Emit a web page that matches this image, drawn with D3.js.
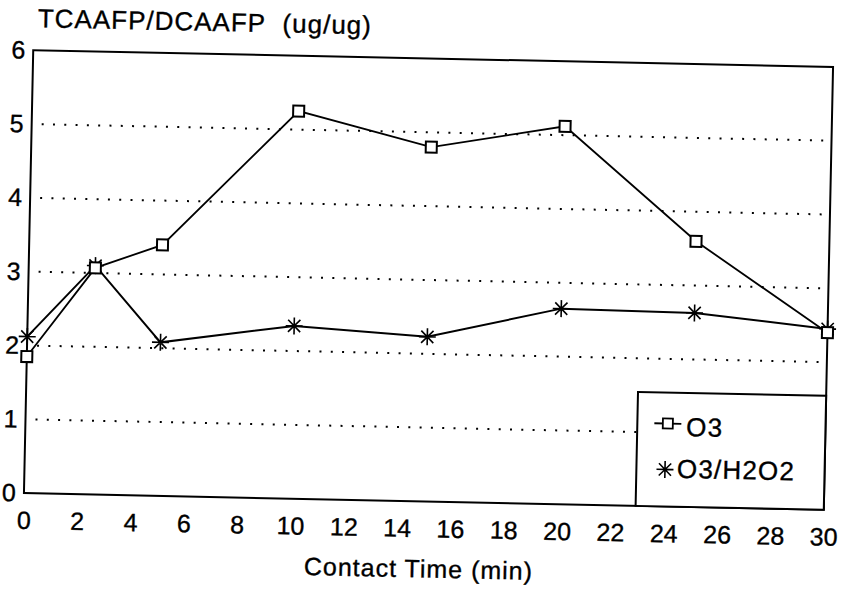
<!DOCTYPE html>
<html>
<head>
<meta charset="utf-8">
<script src="https://cdn.jsdelivr.net/npm/d3@7"></script>
<style>
  html, body { margin: 0; padding: 0; background: #fff; }
  text { font-family: "Liberation Sans", Arial, Helvetica, sans-serif; fill: #000; stroke: #000; stroke-width: 0.35px; }
</style>
</head>
<body>
<svg id="chart" width="843" height="593"></svg>
<script>
// ---- data ----
const contactTimes = [0, 2.5, 5, 10, 15, 20, 25, 30];
const o3Values     = [1.85, 3.07, 3.4, 5.25, 4.8, 5.12, 3.6, 2.4];
const o3h2o2Values = [2.12, 3.1, 2.08, 2.34, 2.23, 2.65, 2.63, 2.45];
const seriesNames  = ["O3", "O3/H2O2"];
const xTickValues  = [0, 2, 4, 6, 8, 10, 12, 14, 16, 18, 20, 22, 24, 26, 28, 30];
const yTickValues  = [0, 1, 2, 3, 4, 5, 6];
const gridValues   = [1, 2, 3, 4, 5];
const xTitle = "Contact Time (min)";
const yTitle = "TCAAFP/DCAAFP\u00A0\u00A0(ug/ug)";

// ---- layout ----
const scanTilt = 1.2;             // the scanned page is slightly rotated
const plotLeft = 28.5, plotTop = 58.5, pw = 800, ph = 443;
const cx = plotLeft + pw / 2, cy = plotTop + ph / 2;
const tickFont = 25;

const svg = d3.select("#chart");
svg.append("rect").attr("width", 843).attr("height", 593).attr("fill", "#fff");

const root = svg.append("g")
  .attr("transform", `rotate(${scanTilt},${cx},${cy}) translate(${plotLeft},${plotTop})`);

const x = d3.scaleLinear().domain([0, 30]).range([0, pw]);
const y = d3.scaleLinear().domain([0, 6]).range([ph, 0]);

// dotted grid lines
root.append("g").selectAll("line").data(gridValues).join("line")
  .attr("x1", 10).attr("x2", pw - 6)
  .attr("y1", d => y(d)).attr("y2", d => y(d))
  .attr("stroke", "#000").attr("stroke-width", 2)
  .attr("stroke-dasharray", "2,9.3");

// axes (labels only)
const xAxis = d3.axisBottom(x).tickValues(xTickValues).tickSize(0).tickPadding(18).tickFormat(d3.format("d"));
const gx = root.append("g").attr("transform", `translate(0,${ph})`).call(xAxis);
gx.select(".domain").remove();
gx.attr("font-family", null).attr("font-size", null);
gx.selectAll("text").style("font-size", tickFont + "px");

const yAxis = d3.axisLeft(y).tickValues(yTickValues).tickSize(0).tickPadding(8).tickFormat(d3.format("d"));
const gy = root.append("g").call(yAxis);
gy.select(".domain").remove();
gy.attr("font-family", null).attr("font-size", null);
gy.selectAll("text").style("font-size", tickFont + "px");

// frame
root.append("rect").attr("width", pw).attr("height", ph)
  .attr("fill", "none").attr("stroke", "#000").attr("stroke-width", 2);

// titles
root.append("text").attr("x", 4).attr("y", -23)
  .style("font-size", "26px").attr("letter-spacing", 1).text(yTitle);
root.append("text").attr("x", pw / 2 - 4).attr("y", ph + 76)
  .attr("text-anchor", "middle").style("font-size", "25px").attr("letter-spacing", 1).text(xTitle);

// series
const line = d3.line().x((d, i) => x(contactTimes[i])).y(d => y(d));
const starPath = r => {
  const k = r * 0.72;
  return `M${-r},0H${r}M0,${-r}V${r}M${-k},${-k}L${k},${k}M${-k},${k}L${k},${-k}`;
};

root.append("path").datum(o3h2o2Values).attr("d", line)
  .attr("fill", "none").attr("stroke", "#000").attr("stroke-width", 2);
root.append("path").datum(o3Values).attr("d", line)
  .attr("fill", "none").attr("stroke", "#000").attr("stroke-width", 1.8);

root.append("g").selectAll("path").data(o3h2o2Values).join("path")
  .attr("transform", (d, i) => `translate(${x(contactTimes[i])},${y(d)})`)
  .attr("d", starPath(8.5)).attr("fill", "none").attr("stroke", "#000").attr("stroke-width", 1.6);

root.append("g").selectAll("rect").data(o3Values).join("rect")
  .attr("x", (d, i) => x(contactTimes[i]) - 5.5).attr("y", d => y(d) - 5.5)
  .attr("width", 11).attr("height", 11)
  .attr("fill", "#fff").attr("stroke", "#000").attr("stroke-width", 2);

// legend
const lgX = 611.8, lgY = 329;
const lg = root.append("g").attr("transform", `translate(${lgX},${lgY})`);
lg.append("rect").attr("width", pw - lgX).attr("height", ph - lgY)
  .attr("fill", "#fff").attr("stroke", "#000").attr("stroke-width", 2);
// row 1: O3
lg.append("line").attr("x1", 17).attr("x2", 44).attr("y1", 31).attr("y2", 31)
  .attr("stroke", "#000").attr("stroke-width", 1.8);
lg.append("rect").attr("x", 30.5 - 5).attr("y", 31 - 5).attr("width", 10).attr("height", 10)
  .attr("fill", "#fff").attr("stroke", "#000").attr("stroke-width", 1.8);
lg.append("text").attr("x", 49).attr("y", 43).style("font-size", "26px").attr("letter-spacing", 1.2).text(seriesNames[0]);
// row 2: O3/H2O2
lg.append("path").attr("transform", "translate(28.6,77)").attr("d", starPath(8.5))
  .attr("fill", "none").attr("stroke", "#000").attr("stroke-width", 1.6);
lg.append("text").attr("x", 40.5).attr("y", 85).style("font-size", "26px").attr("letter-spacing", 1.2).text(seriesNames[1]);
</script>
</body>
</html>
